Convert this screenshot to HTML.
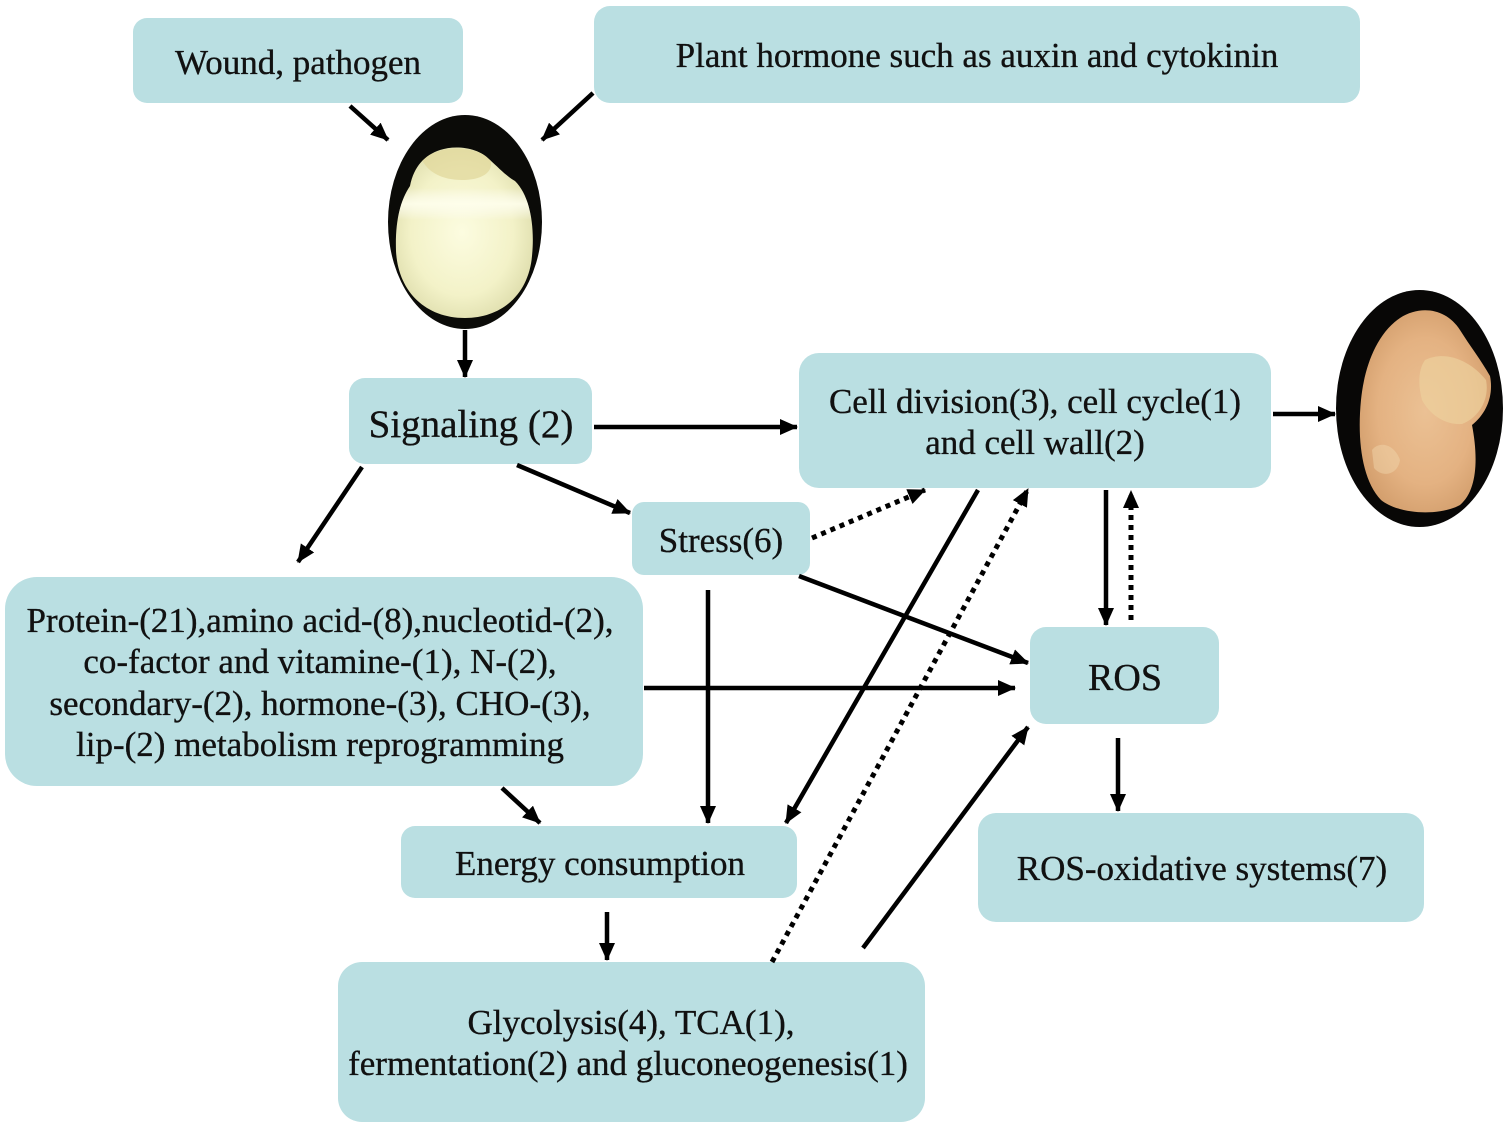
<!DOCTYPE html>
<html>
<head>
<meta charset="utf-8">
<style>
html,body{margin:0;padding:0;background:#fff;}
svg{display:block;}
text{font-family:"Liberation Serif","Times New Roman",serif;fill:#111;text-anchor:middle;stroke:#111;stroke-width:0.35;}
</style>
</head>
<body>
<svg width="1508" height="1126" viewBox="0 0 1508 1126" xmlns="http://www.w3.org/2000/svg">
<defs>
  <marker id="a" markerUnits="userSpaceOnUse" markerWidth="18" markerHeight="16" viewBox="0 0 18 16" refX="17" refY="8" orient="auto">
    <path d="M0,0 L18,8 L0,16 z" fill="#000"/>
  </marker>
  <radialGradient id="g1" cx="0.48" cy="0.5" r="0.62">
    <stop offset="0" stop-color="#fcfce0"/>
    <stop offset="0.55" stop-color="#f3f2c8"/>
    <stop offset="0.85" stop-color="#dddcab"/>
    <stop offset="1" stop-color="#a3a37e"/>
  </radialGradient>
  <linearGradient id="hl" x1="0" y1="0" x2="0" y2="1">
    <stop offset="0" stop-color="#ffffff" stop-opacity="0"/>
    <stop offset="0.5" stop-color="#ffffee" stop-opacity="0.85"/>
    <stop offset="1" stop-color="#ffffff" stop-opacity="0"/>
  </linearGradient>
  <radialGradient id="g2" cx="0.5" cy="0.5" r="0.6">
    <stop offset="0" stop-color="#ebc194"/>
    <stop offset="0.6" stop-color="#e4b282"/>
    <stop offset="1" stop-color="#cf9a68"/>
  </radialGradient>
  <clipPath id="c1">
    <path d="M410,186 C414,166 425,155 440,150 C455,145 478,147 490,160 C499,168 505,175 515,181 C530,196 535,226 532,256 C529,292 504,318 465,318 C425,318 398,291 396,251 C395,222 400,201 410,186 Z"/>
  </clipPath>
</defs>

<!-- Boxes -->
<g fill="#badfe2">
  <rect x="133" y="18" width="330" height="85" rx="14"/>
  <rect x="594" y="6" width="766" height="97" rx="16"/>
  <rect x="349" y="378" width="243" height="86" rx="16"/>
  <rect x="799" y="353" width="472" height="135" rx="20"/>
  <rect x="632" y="502" width="178" height="73" rx="12"/>
  <rect x="5" y="577" width="638" height="209" rx="32"/>
  <rect x="1030" y="627" width="189" height="97" rx="16"/>
  <rect x="401" y="826" width="396" height="72" rx="14"/>
  <rect x="978" y="813" width="446" height="109" rx="18"/>
  <rect x="338" y="962" width="587" height="160" rx="24"/>
</g>

<!-- Egg 1 -->
<ellipse cx="465" cy="222" rx="77" ry="107" fill="#0b0b08"/>
<g clip-path="url(#c1)">
  <rect x="390" y="140" width="150" height="185" fill="url(#g1)"/>
  <path d="M422,160 C438,146 470,144 490,158 C495,172 482,180 462,180 C442,180 428,172 422,160 Z" fill="#e2d89c" opacity="0.75"/>
  <rect x="395" y="188" width="140" height="32" fill="url(#hl)"/>
</g>

<!-- Egg 2 -->
<ellipse cx="1419.5" cy="408.5" rx="83.5" ry="118.5" fill="#080706"/>
<path d="M1400,318 C1420,305 1446,308 1460,330 C1470,346 1481,360 1490,376 C1494,396 1486,414 1472,425 C1478,456 1478,490 1460,505 C1440,516 1400,515 1381,500 C1362,480 1357,440 1361,400 C1364,370 1375,335 1400,318 Z" fill="url(#g2)"/>
<path d="M1425,360 C1445,350 1470,360 1486,380 C1490,400 1478,418 1462,424 C1445,425 1430,415 1422,400 C1418,385 1418,370 1425,360 Z" fill="#ecd09c" opacity="0.7"/>
<path d="M1372,450 C1380,440 1395,445 1400,460 C1398,475 1382,478 1374,468 Z" fill="#f0d4aa" opacity="0.5"/>

<!-- Solid connectors -->
<g stroke="#000" stroke-width="4.5" fill="none" marker-end="url(#a)">
  <line x1="350" y1="106" x2="388" y2="140"/>
  <line x1="593" y1="93" x2="542" y2="140"/>
  <line x1="465" y1="330" x2="465" y2="377"/>
  <line x1="594" y1="427" x2="797" y2="427"/>
  <line x1="362" y1="467" x2="298" y2="562"/>
  <line x1="517" y1="465" x2="630" y2="513"/>
  <line x1="978" y1="490" x2="786" y2="823"/>
  <line x1="1106" y1="490" x2="1106" y2="625"/>
  <line x1="799" y1="576" x2="1028" y2="663"/>
  <line x1="644" y1="688" x2="1015" y2="688"/>
  <line x1="708" y1="590" x2="708" y2="823"/>
  <line x1="502" y1="788" x2="540" y2="823"/>
  <line x1="607" y1="912" x2="607" y2="960"/>
  <line x1="863" y1="948" x2="1028" y2="727"/>
  <line x1="1118" y1="738" x2="1118" y2="811"/>
  <line x1="1273" y1="414" x2="1335" y2="414"/>
</g>

<!-- Dotted connectors -->
<g stroke="#000" stroke-width="5" fill="none" stroke-dasharray="5 5" marker-end="url(#a)">
  <line x1="812" y1="538" x2="925" y2="490"/>
  <line x1="772" y1="962" x2="1028" y2="489"/>
  <line x1="1131" y1="620" x2="1131" y2="491"/>
</g>

<!-- Labels -->
<g font-size="35">
  <text x="298" y="74">Wound, pathogen</text>
  <text x="977" y="67">Plant hormone such as auxin and cytokinin</text>
  <text x="471" y="437" font-size="39">Signaling (2)</text>
  <text x="1035" y="413">Cell division(3), cell cycle(1)</text>
  <text x="1035" y="454">and cell wall(2)</text>
  <text x="721" y="552">Stress(6)</text>
  <text x="320" y="632">Protein-(21),amino acid-(8),nucleotid-(2),</text>
  <text x="320" y="673">co-factor and vitamine-(1), N-(2),</text>
  <text x="320" y="715">secondary-(2), hormone-(3), CHO-(3),</text>
  <text x="320" y="756">lip-(2) metabolism reprogramming</text>
  <text x="1125" y="690" font-size="38">ROS</text>
  <text x="600" y="875">Energy consumption</text>
  <text x="1202" y="880">ROS-oxidative systems(7)</text>
  <text x="631" y="1034">Glycolysis(4), TCA(1),</text>
  <text x="628" y="1075">fermentation(2) and gluconeogenesis(1)</text>
</g>
</svg>
</body>
</html>
